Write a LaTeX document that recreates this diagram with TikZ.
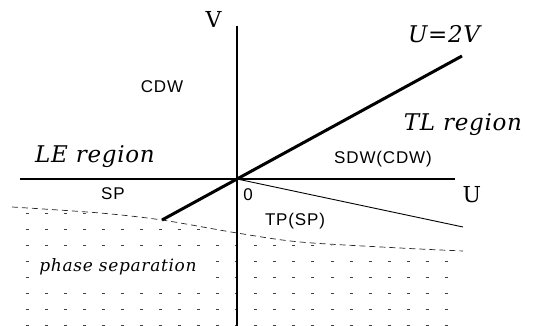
\documentclass[tikz,border=0pt]{standalone}
\usepackage{fontspec}
\setmainfont{DejaVu Serif}
\newfontfamily\labfont[LetterSpace=5]{Liberation Sans}
\usetikzlibrary{positioning}
\tikzset{
  axis/.style={line width=1.5pt,draw=black},
  bound/.style={line width=3pt,draw=black},
  thinbound/.style={line width=0.9pt,draw=black},
  sepline/.style={line width=0.7pt,draw=black!85,dash pattern=on 6pt off 4pt},
  griddash/.style={line width=0.9pt,draw=black!75},
  phase/.style={font=\labfont\fontsize{17}{17}\selectfont,inner sep=0pt,anchor=base},
  region/.style={font=\itshape\fontsize{23}{23}\selectfont\addfontfeature{LetterSpace=3},inner sep=0pt,anchor=base},
  axislabel/.style={font=\fontsize{22}{22}\selectfont,inner sep=0pt,anchor=base}
}

\begin{document}
\begin{tikzpicture}[x=1pt,y=1pt]
\useasboundingbox (-237,-147) rectangle (299,179);
% points of the diagram
\coordinate (O) at (0,0);
\coordinate (Vtop) at (0,153);
\coordinate (Vbot) at (0,-147);
\coordinate (Uleft) at (-217,0);
\coordinate (Uright) at (218,0);
\coordinate (Lend) at (-75,-41);
\coordinate (Rend) at (225,123);
\coordinate (TPend) at (226,-48);
% dotted area below the separation line
\begin{scope}
\clip plot[smooth] coordinates {(-240,-27.5) (-137,-35.5) (-75,-42.5) (0,-55.5) (63,-64.5) (163,-70.5) (240,-74.5)}
  -- (240,-160) -- (-240,-160) -- cycle;
\foreach \r in {0,...,7}
  \foreach \c in {0,...,22}
    \draw[griddash] (-210.5+19*\c,-34-16*\r) -- ++(3,0);
\end{scope}
\draw[sepline] plot[smooth] coordinates {(-225,-28) (-137,-34) (-75,-41) (0,-54) (63,-63) (163,-69) (226,-72)};
% axes and boundaries
\draw[axis] (Uleft) -- (Uright);
\draw[axis] (Vtop) -- (Vbot);
\draw[bound] (Lend) -- (O) -- (Rend);
\draw[thinbound] (O) -- (TPend);
% labels
\node[axislabel] (vlab) at (-23.5,151) {V};
\node[axislabel] (ulab) at (235,-24) {U};
\node[region] (slope) at (207,136) {U=2V};
\node[region] (le) at (-142,16) {LE region};
\node[region] (tl) at (226,48) {TL region};
\node[phase] (cdw) at (-75,86) {CDW};
\node[phase] (sdw) at (146,15) {SDW(CDW)};
\node[phase] (sp) at (-124,-21) {SP};
\node[phase] (zero) at (11,-22) {0};
\node[phase] (tp) at (58,-47) {TP(SP)};
\node[region,font=\itshape\fontsize{17}{17}\selectfont\addfontfeature{LetterSpace=4},fill=white,inner xsep=10pt,inner ysep=6pt] (ps) at (-119,-93) {phase separation};
\end{tikzpicture}
\end{document}
